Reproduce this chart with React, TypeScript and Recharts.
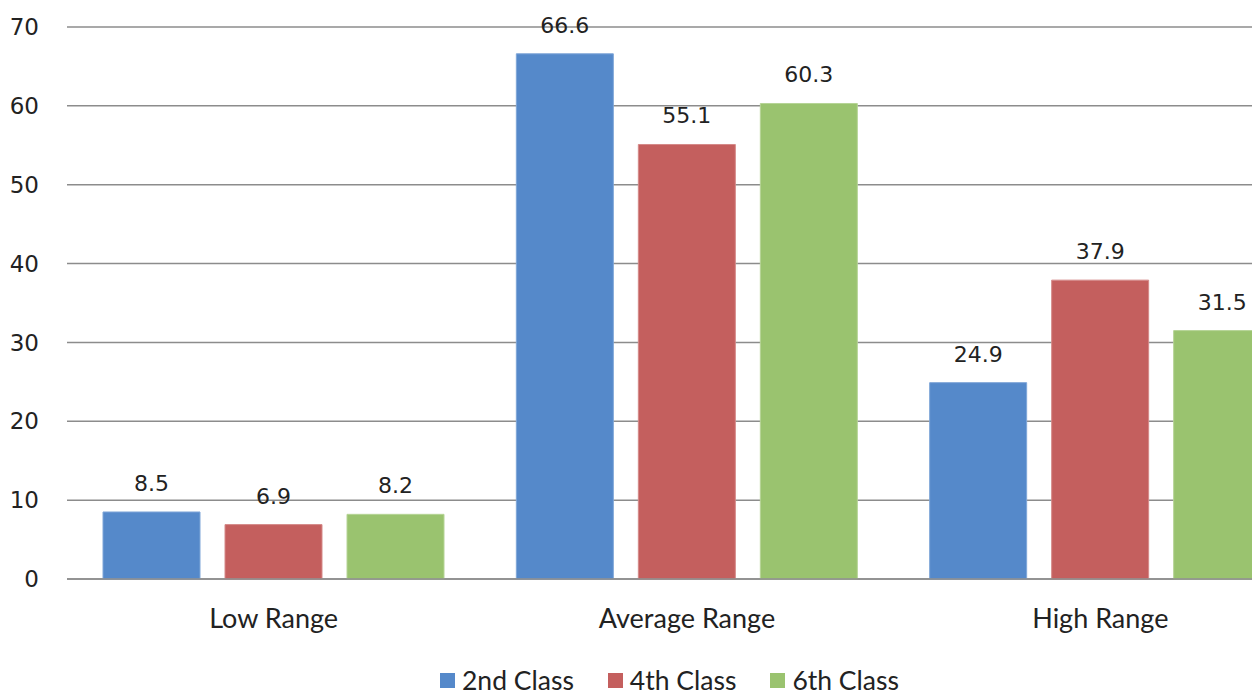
import React from "react";
import { BarChart, Bar, XAxis, YAxis, CartesianGrid, LabelList, Legend } from "recharts";

const categories = ["Low Range", "Average Range", "High Range"];
const class2 = [8.5, 66.6, 24.9];
const class4 = [6.9, 55.1, 37.9];
const class6 = [8.2, 60.3, 31.5];
const yTicks = [0, 10, 20, 30, 40, 50, 60, 70];
const seriesNames = ["2nd Class", "4th Class", "6th Class"];
const colors = ["#5589CA", "#C45F5E", "#9AC36F"];
const borders = ["#7FA6D8", "#D58A89", "#B6D496"];

const data = categories.map((c, i) => ({
  name: c,
  s2: class2[i],
  s4: class4[i],
  s6: class6[i],
}));

const numFont = "'DejaVu Sans', sans-serif";
const catFont = "Lato, 'Open Sans', sans-serif";

const renderLegend = () => (
  <div style={{ display: "flex", alignItems: "center", fontFamily: catFont, fontSize: 26.5, lineHeight: "30px", color: "#222" }}>
    {seriesNames.map((n, i) => (
      <div key={n} style={{ display: "flex", alignItems: "center", marginRight: i < 2 ? 34 : 0 }}>
        <div style={{ width: 15, height: 15, background: colors[i], marginRight: 7 }} />
        <span>{n}</span>
      </div>
    ))}
  </div>
);

export default function App() {
  const keys = ["s2", "s4", "s6"];
  return (
    <div style={{ position: "absolute", left: 0, top: 0, width: 1252, height: 693, overflow: "hidden", background: "#fff" }}>
      <BarChart
        width={1320}
        height={693}
        data={data}
        margin={{ top: 27, right: 13, left: 0, bottom: 24 }}
        barSize={97}
        barGap={25}
      >
        <CartesianGrid vertical={false} stroke="#8C8C8C" strokeWidth={1.5} />
        <XAxis
          dataKey="name"
          height={60}
          tickLine={false}
          axisLine={{ stroke: "#8C8C8C", strokeWidth: 1.5 }}
          tick={{ fontFamily: catFont, fontSize: 27, fill: "#222" }}
          tickMargin={24}
        />
        <YAxis
          width={67}
          domain={[0, 70]}
          ticks={yTicks}
          tickLine={false}
          axisLine={false}
          tick={{ fontFamily: numFont, fontSize: 23, fill: "#222" }}
          tickMargin={22}
        />
        <Legend
          content={renderLegend}
          wrapperStyle={{ position: "absolute", left: 440, top: 665, width: "auto", height: 30 }}
        />
        {keys.map((k, i) => (
          <Bar key={k} dataKey={k} name={seriesNames[i]} fill={colors[i]} stroke={borders[i]} strokeWidth={1} isAnimationActive={false}>
            <LabelList dataKey={k} position="top" offset={21} style={{ fontFamily: numFont, fontSize: 22, fill: "#222" }} />
          </Bar>
        ))}
      </BarChart>
    </div>
  );
}
